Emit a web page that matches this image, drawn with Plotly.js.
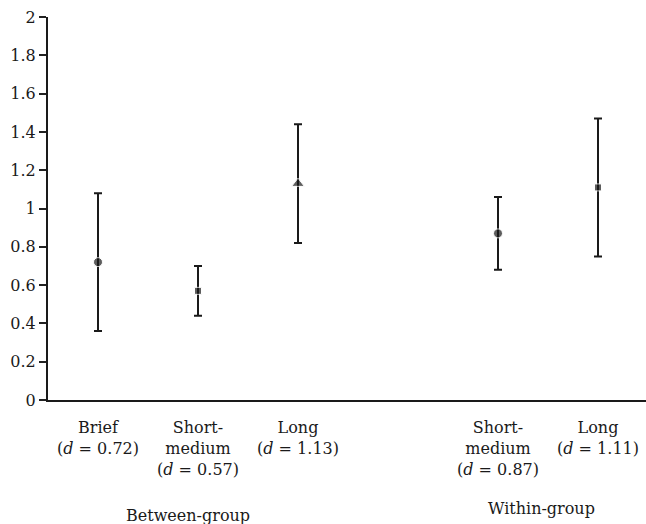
<!DOCTYPE html>
<html>
<head>
<meta charset="utf-8">
<script src="https://cdn.plot.ly/plotly-3.0.1.min.js"></script>
<style>html,body{margin:0;padding:0;background:#fff;}#chart{width:646px;height:524px;}</style>
</head>
<body>
<div id="chart"></div>
<script>
const positions = [1, 2, 3, 5, 6];
const categoryLabels = [
  "Brief<br>(<i>d</i> = 0.72)",
  "Short-<br>medium<br>(<i>d</i> = 0.57)",
  "Long<br>(<i>d</i> = 1.13)",
  "Short-<br>medium<br>(<i>d</i> = 0.87)",
  "Long<br>(<i>d</i> = 1.11)"
];
const effectSize = [0.72, 0.57, 1.13, 0.87, 1.11];
const ciLower = [0.36, 0.44, 0.82, 0.68, 0.75];
const ciUpper = [1.08, 0.70, 1.44, 1.06, 1.47];
const markerSymbols = ["circle", "square", "triangle-up", "circle", "square"];
const markerSizes = [9, 7, 11, 9, 7];
const groupLabels = ["Between-group", "Within-group"];
const groupCenters = [1.9, 5.43];
const yTicks = [0, 0.2, 0.4, 0.6, 0.8, 1, 1.2, 1.4, 1.6, 1.8, 2];

const ink = "#1a1a1a";
const serif = "DejaVu Serif";

const trace = {
  type: "scatter",
  mode: "markers",
  x: positions,
  y: effectSize,
  marker: { symbol: markerSymbols, size: markerSizes, color: ink },
  error_y: {
    type: "data",
    symmetric: false,
    array: effectSize.map((v, i) => ciUpper[i] - v),
    arrayminus: effectSize.map((v, i) => v - ciLower[i]),
    color: ink,
    thickness: 2,
    width: 4
  },
  hoverinfo: "none",
  showlegend: false
};

const layout = {
  width: 646,
  height: 524,
  margin: { l: 48, r: 0, t: 17, b: 124 },
  paper_bgcolor: "#fff",
  plot_bgcolor: "#fff",
  font: { family: serif, size: 16, color: ink },
  xaxis: {
    range: [0.5, 6.48],
    tickmode: "array",
    tickvals: positions,
    ticktext: categoryLabels,
    ticks: "outside",
    ticklen: 12,
    tickcolor: "rgba(0,0,0,0)",
    showgrid: false,
    zeroline: false,
    showline: true,
    linecolor: ink,
    linewidth: 2,
    tickfont: { family: serif, size: 16, color: ink }
  },
  yaxis: {
    range: [0, 2],
    tickmode: "array",
    tickvals: yTicks,
    ticktext: yTicks.map(String),
    ticks: "outside",
    ticklen: 7,
    tickwidth: 2,
    tickcolor: "#222222",
    showgrid: false,
    zeroline: false,
    showline: true,
    linecolor: ink,
    linewidth: 2,
    tickfont: { family: serif, size: 16, color: ink }
  },
  annotations: [
    { x: groupCenters[0], y: 515, xref: "x", yref: "paper", text: groupLabels[0], showarrow: false,
      font: { family: serif, size: 16, color: ink } },
    { x: groupCenters[1], y: 508, xref: "x", yref: "paper", text: groupLabels[1], showarrow: false,
      font: { family: serif, size: 16, color: ink } }
  ]
};
const plotH = layout.height - layout.margin.t - layout.margin.b;
layout.annotations.forEach(a => {
  a.y = (layout.height - layout.margin.b - a.y) / plotH;
  a.yanchor = "middle";
});

Plotly.newPlot("chart", [trace], layout, { staticPlot: true, displayModeBar: false });
</script>
</body>
</html>
